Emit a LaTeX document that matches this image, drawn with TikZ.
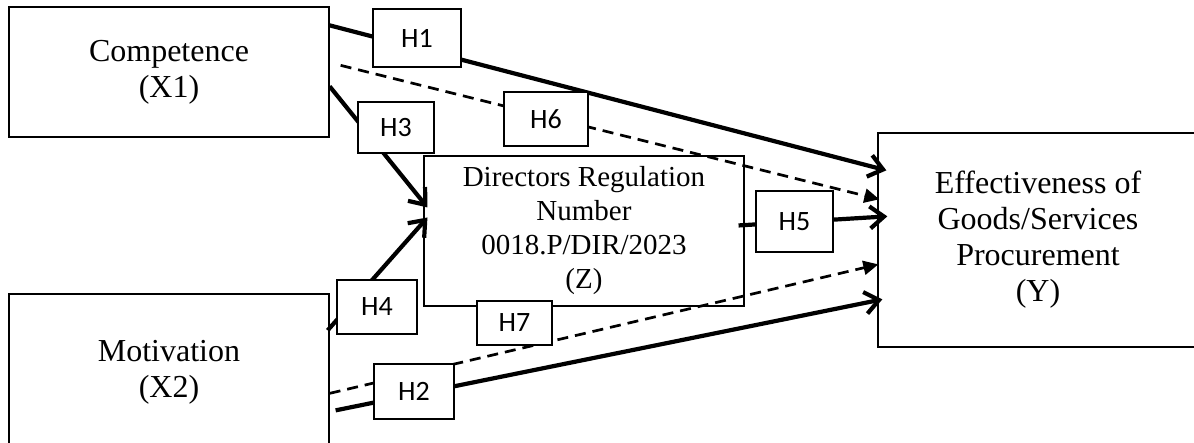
\documentclass[tikz,border=0pt]{standalone}
\usepackage{fontspec}
\setmainfont{Liberation Serif}
\newfontfamily\hfont{Carlito}
\usetikzlibrary{arrows.meta,calc}
\begin{document}
\begin{tikzpicture}[x=1pt,y=-1pt,
  varbox/.style={draw, line width=1.3pt, fill=white, inner sep=0pt, align=center,
    font=\fontsize{32}{36}\selectfont},
  zbox/.style={varbox, line width=1.1pt, font=\fontsize{29}{34}\selectfont},
  hbox/.style={draw, line width=1.3pt, fill=white, inner sep=0pt,
    font=\hfont\fontsize{28}{30}\selectfont},
  solidarr/.style={line width=4.2pt, -{Straight Barb[length=14pt,width=22pt]}},
  dasharr/.style={line width=2.7pt, dash pattern=on 11pt off 7pt,
    -{Triangle[length=15pt,width=14pt]}}
]
\useasboundingbox (0,0) rectangle (1194,442);
\clip (0,0) rectangle (1194,442);

% variable boxes
\node[varbox, minimum width=320pt, minimum height=130pt] (X1) at (169,72) {Competence\\(X1)};
\node[varbox, minimum width=320pt, minimum height=156pt] (X2) at (169,372) {Motivation\\(X2)};
\node[varbox, minimum width=320pt, minimum height=214pt] (Y) at (1038,240)
  {Effectiveness of\\Goods/Services\\Procurement\\(Y)};
\node[zbox, minimum width=320pt, minimum height=150pt] (Z) at (584,231)
  {Directors Regulation\\Number\\0018.P/DIR/2023\\(Z)};

% connectors
\draw[solidarr] ($(X1.north east)+(0,19)$) -- ($(Y.north west)+(9,38)$);
\draw[dasharr] ($(X1.north east)+(11,59)$) -- ($(Y.north west)+(2,67)$);
\draw[solidarr] ($(X1.north east)+(0,80)$) -- ($(Z.north west)+(4,52)$);
\draw[solidarr] ($(X2.north east)+(-2,37)$) -- ($(Z.north west)+(4,62)$);
\draw[solidarr] ($(Z.north east)+(-6,70)$) -- ($(Y.north west)+(10,84)$);
\draw[dasharr] ($(X2.north east)+(0,100)$) -- ($(Y.north west)+(1,132)$);
\draw[solidarr] ($(X2.north east)+(6,117)$) -- ($(Y.north west)+(5,167)$);

% hypothesis labels
\node[hbox, minimum width=88pt, minimum height=58pt] (H1) at (417,38) {H1};
\node[hbox, minimum width=76pt, minimum height=51pt] (H3) at (396,127.5) {H3};
\node[hbox, minimum width=84pt, minimum height=54pt] (H6) at (546,119) {H6};
\node[hbox, minimum width=80pt, minimum height=54pt] (H4) at (377,307) {H4};
\node[hbox, minimum width=75pt, minimum height=44pt] (H7) at (514.5,323) {\raisebox{-4pt}{H7}};
\node[hbox, minimum width=80pt, minimum height=55pt] (H2) at (414,391.5) {H2};
\node[hbox, minimum width=77pt, minimum height=61pt] (H5) at (794.5,221.5) {H5};
\end{tikzpicture}
\end{document}
